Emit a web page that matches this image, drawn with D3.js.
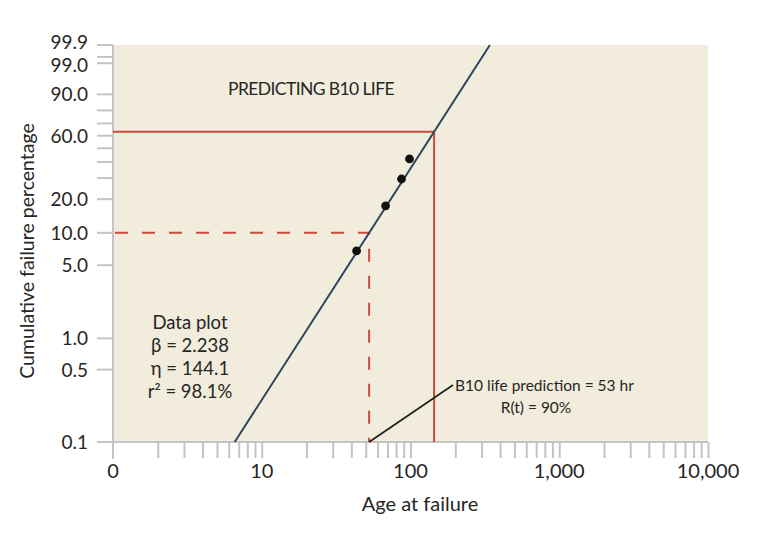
<!DOCTYPE html>
<html>
<head>
<meta charset="utf-8">
<script src="https://cdn.jsdelivr.net/npm/d3@7"></script>
<style>
  html, body { margin: 0; padding: 0; background: #ffffff; }
  svg { display: block; font-family: "Lato", "Open Sans", sans-serif; }
</style>
</head>
<body>
<svg id="chart" width="768" height="533"></svg>
<script>
// ---------------- data ----------------
const xTickValues = [1, 10, 100, 1000, 10000];
const xTickLabels = ["0", "10", "100", "1,000", "10,000"];
const yTickValues = [0.1, 0.5, 1, 5, 10, 20, 60, 90, 99, 99.9];
const yTickLabels = ["0.1", "0.5", "1.0", "5.0", "10.0", "20.0", "60.0", "90.0", "99.0", "99.9"];
const yMinorTicks = [30, 40, 50, 70, 80, 99.5];
const failureAges = [43.4, 68, 87, 98.5];
const failurePct = [6.8, 17.5, 29.5, 42.1];
const beta = 2.238;
const eta = 144.1;
const b10Pct = 10;
const b10Life = 52.7;
const characteristicPct = 63.2;
const statsLines = ["Data plot", "\u03B2 = 2.238", "\u03B7 = 144.1", "r\u00B2  = 98.1%"];
const annotLines = ["B10 life prediction = 53 hr", "R(t) = 90%"];

(function () {
// ---------------- scales ----------------
const pl = 113, pr = 708, pt = 45, pb = 442;
const wb = p => Math.log(-Math.log(1 - p / 100));
const x = d3.scaleLog().domain([1, 10000]).range([pl, pr]);
const yw = d3.scaleLinear().domain([wb(0.1), wb(99.9)]).range([pb, pt]);
const y = p => yw(wb(p));
const ageAt = p => eta * Math.pow(-Math.log(1 - p / 100), 1 / beta);

const svg = d3.select("#chart");
const grey = "#c4c4c4";
const red = "#cc4a3b";
const navy = "#2b465e";
const ink = "#262626";

// plot background
svg.append("rect").attr("x", pl).attr("y", pt)
  .attr("width", pr - pl).attr("height", pb - pt)
  .attr("fill", "#f2ecdc");

// x axis
const xMinor = [];
for (let d = 1; d < 10000; d *= 10) for (let k = 2; k <= 9; k++) xMinor.push(d * k);
const xAxis = d3.axisBottom(x).tickValues(xTickValues.concat(xMinor).slice(1))
  .tickSize(16).tickFormat("");
const gx = svg.append("g").attr("transform", `translate(0,${pb})`).call(xAxis);
gx.select(".domain").remove();
gx.selectAll(".tick line").attr("stroke", grey).attr("stroke-width", 2);
svg.append("line").attr("x1", 97).attr("x2", pr).attr("y1", pb).attr("y2", pb)
  .attr("stroke", grey).attr("stroke-width", 2);
svg.append("g").selectAll("text").data(xTickValues).join("text")
  .attr("x", d => x(d)).attr("y", 478).attr("text-anchor", "middle")
  .attr("font-size", 20).attr("fill", ink)
  .text((d, i) => xTickLabels[i]);

// y axis
svg.append("line").attr("x1", pl).attr("x2", pl).attr("y1", pt).attr("y2", 459)
  .attr("stroke", grey).attr("stroke-width", 2);
const yTicksAll = yTickValues.concat(yMinorTicks);
svg.append("g").selectAll("line").data(yTicksAll).join("line")
  .attr("x1", 97).attr("x2", pl).attr("y1", d => y(d)).attr("y2", d => y(d))
  .attr("stroke", grey).attr("stroke-width", 2);
const labelNudge = {99.9: -3, 99: 1.7};
svg.append("g").selectAll("text").data(yTickValues).join("text")
  .attr("x", 88).attr("y", d => y(d) + 7 + (labelNudge[d] || 0)).attr("text-anchor", "end")
  .attr("font-size", 19).attr("fill", ink)
  .text((d, i) => yTickLabels[i]);

// axis titles
svg.append("text").attr("x", 420).attr("y", 511).attr("text-anchor", "middle")
  .attr("font-size", 20).attr("fill", ink).text("Age at failure");
svg.append("text").attr("transform", "translate(34,251) rotate(-90)").attr("text-anchor", "middle")
  .attr("font-size", 19.5).attr("fill", ink).text("Cumulative failure percentage");

// red solid characteristic life lines
const xEta = x(eta), yEta = y(characteristicPct);
svg.append("path").attr("d", `M${pl},${yEta}H${xEta}V${pb}`)
  .attr("fill", "none").attr("stroke", red).attr("stroke-width", 2);

// red dashed B10 lines
const xB10 = x(b10Life), yB10 = y(b10Pct);
svg.append("path").attr("d", `M${pl + 2},${yB10}H${xB10}V${pb}`)
  .attr("fill", "none").attr("stroke", red).attr("stroke-width", 2)
  .attr("stroke-dasharray", "13,14");

// fitted Weibull line
const linePts = [0.1, 99.9].map(p => [x(ageAt(p)), y(p)]);
svg.append("path").attr("d", d3.line()(linePts))
  .attr("fill", "none").attr("stroke", navy).attr("stroke-width", 2);

// data points
svg.append("g").selectAll("circle").data(failureAges).join("circle")
  .attr("cx", d => x(d)).attr("cy", (d, i) => y(failurePct[i])).attr("r", 4.4)
  .attr("fill", "#111");

// title
svg.append("text").attr("x", 311).attr("y", 95).attr("text-anchor", "middle")
  .attr("font-size", 17.5).attr("fill", ink).attr("letter-spacing", -0.6)
  .text("PREDICTING B10 LIFE");

// stats text
svg.append("g").selectAll("text").data(statsLines).join("text")
  .attr("x", 190).attr("y", (d, i) => 329 + i * 23).attr("text-anchor", "middle")
  .attr("font-size", 18.5).attr("fill", ink)
  .text(d => d);

// annotation
svg.append("line").attr("x1", xB10).attr("y1", pb).attr("x2", 453).attr("y2", 385)
  .attr("stroke", "#222").attr("stroke-width", 1.8);
svg.append("text").attr("x", 455).attr("y", 391).attr("font-size", 15.5).attr("fill", ink)
  .text(annotLines[0]);
svg.append("text").attr("x", 536).attr("y", 413).attr("text-anchor", "middle")
  .attr("font-size", 15.5).attr("fill", ink).text(annotLines[1]);
})();
</script>
</body>
</html>
